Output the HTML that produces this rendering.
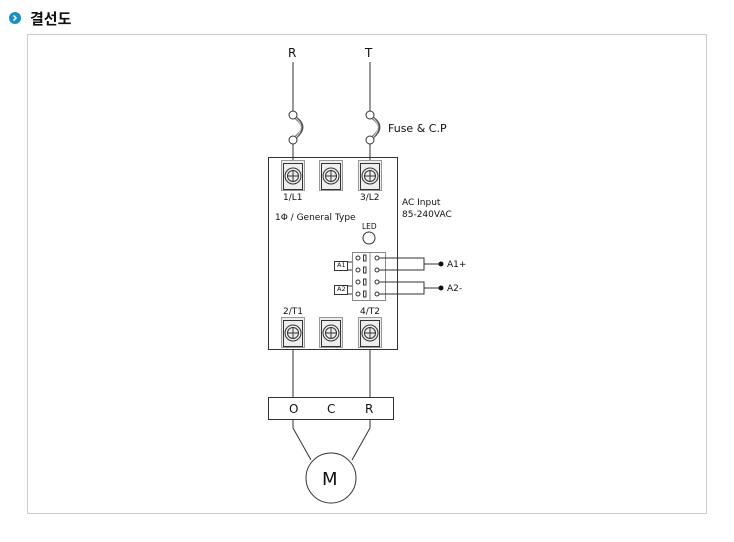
<!DOCTYPE html>
<html><head><meta charset="utf-8"><style>
body{margin:0;background:#fff;width:734px;height:542px;overflow:hidden}
svg{display:block}
text{font-family:"DejaVu Sans","Liberation Sans",sans-serif;fill:#111}
</style></head><body>
<svg width="734" height="542" viewBox="0 0 734 542">
<circle cx="15" cy="18" r="6" fill="#1b8fc0"/>
<path d="M13.5 15.5 L16 18 L13.5 20.5" stroke="#fff" stroke-width="1.5" fill="none"/>
<text x="30" y="24" style="font-family:'Liberation Sans','Noto Sans CJK KR',sans-serif;font-weight:bold;font-size:15px">결선도</text>
<rect x="27.5" y="34.5" width="679" height="479" fill="none" stroke="#ccc"/>
<g stroke="#333" stroke-width="1" fill="none">
<!-- wires top -->
<line x1="293" y1="62" x2="293" y2="111"/><line x1="293" y1="144" x2="293" y2="162"/>
<line x1="370" y1="62" x2="370" y2="111"/><line x1="370" y1="144" x2="370" y2="162"/>
<circle cx="293" cy="115" r="4" fill="#fff"/><circle cx="293" cy="140" r="4" fill="#fff"/>
<circle cx="370" cy="115" r="4" fill="#fff"/><circle cx="370" cy="140" r="4" fill="#fff"/>
<path d="M296 118 Q308 127 296 137" stroke-width="3" stroke="#555"/><path d="M296 118 Q306 127 296 137" stroke="#ddd" stroke-width="1"/>
<path d="M373 118 Q385 127 373 137" stroke-width="3" stroke="#555"/><path d="M373 118 Q383 127 373 137" stroke="#ddd" stroke-width="1"/>
<rect x="268.5" y="157.5" width="129" height="192"/>
</g>
<g id="t" stroke="#333" fill="none">
<rect x="281.5" y="160.5" width="23" height="30" fill="#eee" stroke="#999"/>
<rect x="283.5" y="163.5" width="19" height="26" stroke="#333"/>
<circle cx="293" cy="176" r="8"/><circle cx="293" cy="176" r="5.5"/>
<line x1="287.5" y1="176" x2="298.5" y2="176"/><line x1="293" y1="170.5" x2="293" y2="181.5"/>
</g>
<use href="#t" x="38"/><use href="#t" x="77"/>
<use href="#t" y="157"/><use href="#t" x="38" y="157"/><use href="#t" x="77" y="157"/>
<g style="font-size:9px">
<text x="283" y="200">1/L1</text><text x="360" y="200">3/L2</text>
<text x="283" y="314">2/T1</text><text x="360" y="314">4/T2</text>
<text x="275" y="220">1Φ / General Type</text>
<text x="362" y="229" style="font-size:7.5px">LED</text>
<text x="402" y="205">AC Input</text><text x="402" y="217">85-240VAC</text>
<text x="447" y="267">A1+</text><text x="447" y="291">A2-</text>
</g>
<g stroke="#333" fill="none">
<circle cx="369" cy="238" r="6"/>
<rect x="352.5" y="252.5" width="33" height="48" fill="#fff" stroke="#888"/>
<line x1="370" y1="253" x2="370" y2="300" stroke="#888"/>
<g id="r"><circle cx="358" cy="258" r="2"/><rect x="363.5" y="255" width="2.5" height="6"/><circle cx="377" cy="258" r="2"/></g>
<use href="#r" y="12"/><use href="#r" y="24"/><use href="#r" y="36"/>
<rect x="334.5" y="261.5" width="13" height="9"/><line x1="347" y1="262" x2="352" y2="262"/><line x1="347" y1="270" x2="352" y2="270"/>
<rect x="334.5" y="285.5" width="13" height="9"/><line x1="347" y1="286" x2="352" y2="286"/><line x1="347" y1="294" x2="352" y2="294"/>
<path d="M379 258H424V270H379M424 264H440"/>
<path d="M379 282H424V294H379M424 288H440"/>
<line x1="293" y1="349" x2="293" y2="397"/><line x1="370" y1="349" x2="370" y2="397"/>
<rect x="268.5" y="397.5" width="125" height="22"/>
<path d="M293 420V428L311 460M370 420V428L352 460"/>
<circle cx="331" cy="478" r="25"/>
</g>
<text x="337" y="267" style="font-size:6.5px">A1</text><text x="337" y="291" style="font-size:6.5px">A2</text>
<circle cx="441" cy="264" r="2.5" fill="#111"/><circle cx="441" cy="288" r="2.5" fill="#111"/>
<g style="font-size:12px"><text x="288" y="57">R</text><text x="365" y="57">T</text>
<text x="388" y="132" style="font-size:11px">Fuse &amp; C.P</text>
<text x="289" y="413">O</text><text x="327" y="413">C</text><text x="365" y="413">R</text>
<text x="322" y="485" style="font-size:18px">M</text></g>
</svg>
</body></html>
